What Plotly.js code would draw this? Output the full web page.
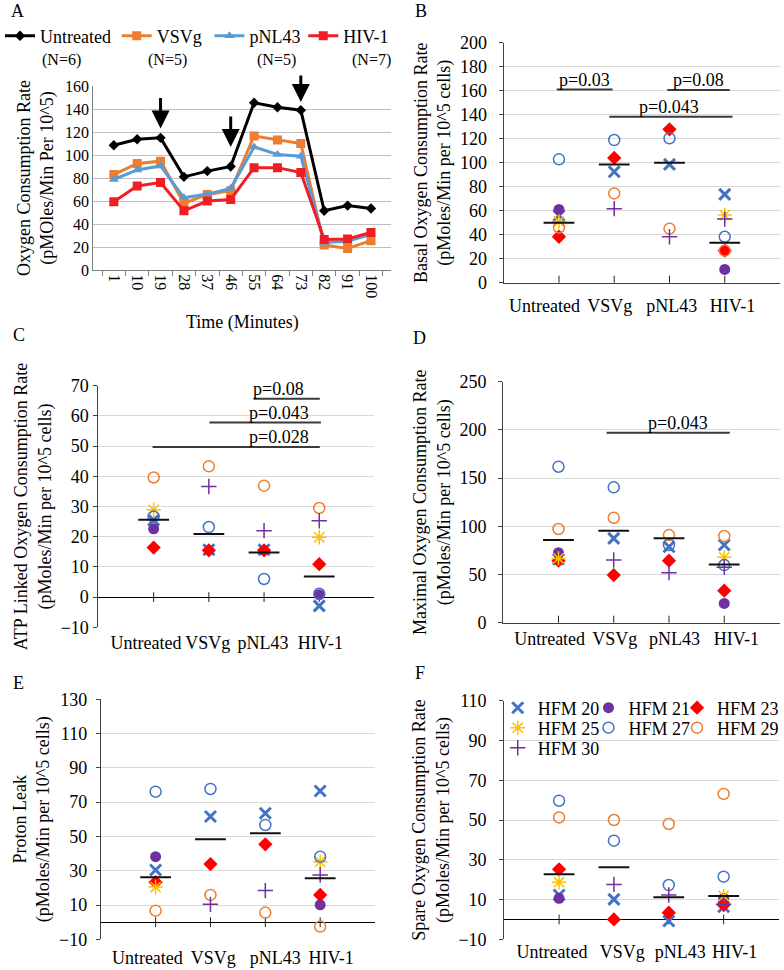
<!DOCTYPE html>
<html>
<head>
<meta charset="utf-8">
<script src="https://cdn.plot.ly/plotly-3.0.1.min.js"></script>
<style>html,body{margin:0;padding:0;background:#fff;}#chart{width:784px;height:970px;}</style>
</head>
<body>
<div id="chart"></div>
<script>
// ---------- Panel A data ----------
const timesA = ['1','10','19','28','37','46','55','64','73','82','91','100'];
const untreatedA = [108.5, 113.7, 114.9, 81, 86, 90, 145.5, 141.5, 139, 51.5, 56, 53.5];
const vsvgA      = [83, 92.6, 94.6, 58, 65.7, 69, 116.6, 113, 110, 21.7, 18.8, 25.5];
const pnl43A     = [78.7, 87, 90.5, 62.8, 66, 71, 107, 100.4, 99, 24, 25, 31];
const hiv1A      = [59.3, 73, 76, 51.5, 60, 61.3, 89, 89, 84.8, 26.6, 27, 32.7];
const seriesNamesA = ['Untreated','VSVg','pNL43','HIV-1'];
const groupNsA = ['(N=6)','(N=5)','(N=5)','(N=7)'];
// injection arrows: category and value at arrow tip
const arrowTimesA = ['19','46','73'];
const arrowTipsA  = [123, 107, 146];

// ---------- Panels B-F (donor rows x groups) ----------
const groups = ['Untreated','VSVg','pNL43','HIV-1'];
const donors = ['HFM 20','HFM 21','HFM 23','HFM 25','HFM 27','HFM 29','HFM 30'];

const basalB = [
  [56, 92.5, 98.6, 73.6],
  [61, null, null, 11.1],
  [38.3, 104, 127.8, 26.7],
  [51, null, null, 56.4],
  [102.8, 118.9, 120.3, 38.3],
  [46, 74.4, 45, 26.7],
  [null, 61.7, 38.3, 53]
];
const basalMean = [50, 98.6, 100, 33.3];

const atpC = [
  [25.5, 15.7, 15.7, -2.9],
  [22.6, null, null, 0.8],
  [16.4, 15.5, 15.5, 10.9],
  [28.9, null, null, 19.8],
  [26.7, 23.2, 6, 1.1],
  [39.6, 43.3, 36.9, 29.5],
  [null, 36.6, 22, 25.3]
];
const atpMean = [25.6, 20.9, 14.8, 6.8];

const maxD = [
  [66, 87.5, 78.8, 80.6],
  [72.6, null, null, 20],
  [64.3, 49.4, 64.3, 33.2],
  [66.7, null, null, 67.8],
  [161.8, 140.4, 80.6, 59.8],
  [97.2, 108.9, 90.9, 89.9],
  [null, 65, 51.9, 57.4]
];
const maxMean = [85.8, 95.4, 87.5, 60.5];

const leakE = [
  [30.4, 61.6, 63.5, 76.5],
  [38.2, null, null, 10.1],
  [23.3, 33.9, 45.4, 15.9],
  [20.5, null, null, 35.3],
  [76.1, 77.7, 56.7, 38.2],
  [6.7, 15.9, 5.6, -2.6],
  [null, 10.4, 18.4, 27.5]
];
const leakMean = [26.2, 48.3, 51.8, 25.6];

const spareF = [
  [12.3, 10.1, -0.8, 6.4],
  [10.6, null, null, 10.6],
  [25.2, 0, 3.4, 7.3],
  [18.7, null, null, 11.8],
  [59.7, 39.6, 17.3, 21.5],
  [51.3, 50, 48, 63.1],
  [null, 17.6, 12.3, 7.6]
];
const spareMean = [22.7, 26.2, 11.1, 11.8];

// significance bars: from group, to group, level, label
const sigB = [
  {from: -0.04, to: 0.97, y: 161, label: 'p=0.03', lx: 0.46},
  {from: 1.96, to: 3.09, y: 160.5, label: 'p=0.08', lx: 2.53},
  {from: 0.91, to: 3.14, y: 138.3, label: 'p=0.043', lx: 1.99}
];
const sigC = [
  {from: 1.81, to: 3.01, y: 65.7, label: 'p=0.08', lx: 2.27},
  {from: 1.01, to: 3.03, y: 57.8, label: 'p=0.043', lx: 2.27},
  {from: -0.02, to: 3.01, y: 49.7, label: 'p=0.028', lx: 2.27}
];
const sigD = [
  {from: 0.87, to: 3.1, y: 197, label: 'p=0.043', lx: 2.17}
];

// ---------- styling ----------
const W = 784, H = 970;
const FONT = 'Liberation Serif';
const px = v => v / W;
const py = v => 1 - v / H;
const TXT = '#000';
const tf = size => ({family: FONT, size: size, color: TXT});

const lineStylesA = [
  {color: '#000000', symbol: 'diamond', size: 8},
  {color: '#ED7D31', symbol: 'square', size: 9},
  {color: '#5B9BD5', symbol: 'triangle-up', size: 9},
  {color: '#F01E23', symbol: 'square', size: 9}
];
// legend placement (px): left origin and vertical centre
const legendPosA = [[0, 36], [117, 36], [210, 36], [304, 36]];
const donorStyles = [
  {symbol: 'x-thin-open', color: '#4472C4', size: 11, lw: 3},
  {symbol: 'circle', color: '#7030A0', size: 11, lw: 0},
  {symbol: 'diamond', color: '#FF0000', size: 11, lw: 0},
  {symbol: 'asterisk-open', color: '#FFC000', size: 12, lw: 1.5},
  {symbol: 'circle-open', color: '#4472C4', size: 11, lw: 1.5},
  {symbol: 'circle-open', color: '#ED7D31', size: 11, lw: 1.5},
  {symbol: 'cross-thin-open', color: '#7030A0', size: 11, lw: 1.5}
];
const legendPosF = [[499, 708], [590, 708], [679, 708], [499, 728], [590, 728], [679, 728], [499, 748]];

const traces = [];
const annotations = [];
const legends = {};
function addLegend(key, pos) {
  legends[key] = {x: px(pos[0]), y: py(pos[1]), xanchor: 'left', yanchor: 'middle',
    orientation: 'v', font: tf(18), itemwidth: 30, bgcolor: 'rgba(0,0,0,0)', borderwidth: 0};
}
function paperText(text, x, y, size) {
  annotations.push({text: text, xref: 'paper', yref: 'paper', x: px(x), y: py(y),
    xanchor: 'center', yanchor: 'middle', showarrow: false, font: tf(size)});
}

// Panel A
[untreatedA, vsvgA, pnl43A, hiv1A].forEach((ys, i) => {
  const s = lineStylesA[i];
  const key = i === 0 ? 'legend' : 'legend' + (i + 1);
  addLegend(key, legendPosA[i]);
  traces.push({
    type: 'scatter', mode: 'lines+markers', x: timesA, y: ys,
    name: seriesNamesA[i], xaxis: 'x', yaxis: 'y', legend: key,
    line: {color: s.color, width: 3},
    marker: {symbol: s.symbol, size: s.size, color: s.color},
    hoverinfo: 'skip'
  });
});
const nX = [62, 168, 277, 372];
groupNsA.forEach((t, i) => paperText(t, nX[i], 60, 16));
arrowTimesA.forEach((t, i) => annotations.push({
  xref: 'x', yref: 'y', x: timesA.indexOf(t), y: arrowTipsA[i], text: '',
  showarrow: true, arrowhead: 2, arrowsize: 1.2, arrowwidth: 3, arrowcolor: '#000',
  ax: 0, ay: i === 2 ? -28 : -32
}));

// Panels B-F
const gx = groups.map((g, i) => i);
const panels = [
  {ax: '2', data: basalB, mean: basalMean, sig: sigB, zero: false, labShift: [-0.26, -0.08, 0.04, 0.14]},
  {ax: '3', data: atpC, mean: atpMean, sig: sigC, zero: true, labShift: [-0.14, -0.02, -0.02, 0.02]},
  {ax: '4', data: maxD, mean: maxMean, sig: sigD, zero: false, labShift: [-0.16, 0.02, 0.1, 0.22]},
  {ax: '5', data: leakE, mean: leakMean, sig: [], zero: true, labShift: [-0.15, 0.05, 0.18, 0.2]},
  {ax: '6', data: spareF, mean: spareMean, sig: [], zero: true, labShift: [-0.13, 0.15, 0.21, 0.2]}
];
donors.forEach((d, di) => addLegend('legend' + (5 + di), legendPosF[di]));
panels.forEach((p, pi) => {
  const xa = 'x' + p.ax, ya = 'y' + p.ax;
  // category tick marks on the zero / bottom line
  traces.push({type: 'scatter', mode: 'markers', x: gx, y: gx.map(() => 0),
    xaxis: xa, yaxis: ya, showlegend: false, hoverinfo: 'skip', cliponaxis: true,
    marker: {symbol: 'line-ns-open', size: p.zero ? 7 : 10, color: '#222', line: {color: '#222', width: 1}}});
  p.sig.forEach(s => {
    traces.push({type: 'scatter', mode: 'lines', x: [s.from, s.to], y: [s.y, s.y],
      xaxis: xa, yaxis: ya, showlegend: false, hoverinfo: 'skip',
      line: {color: '#3a3a3a', width: 2}});
    annotations.push({xref: xa, yref: ya, x: s.lx, y: s.y, text: s.label, showarrow: false,
      xanchor: 'center', yanchor: 'bottom', yshift: -2, font: tf(18)});
  });
  donors.forEach((d, di) => {
    const st = donorStyles[di];
    const xs = [], ys = [];
    p.data[di].forEach((v, gi) => { if (v !== null) { xs.push(gi); ys.push(v); } });
    traces.push({type: 'scatter', mode: 'markers', x: xs, y: ys, name: d,
      xaxis: xa, yaxis: ya, legend: 'legend' + (5 + di), showlegend: p.ax === '6',
      hoverinfo: 'skip',
      marker: {symbol: st.symbol, size: st.size, color: st.color,
        line: {color: st.color, width: st.lw}}});
  });
  traces.push({type: 'scatter', mode: 'markers', x: gx, y: p.mean, xaxis: xa, yaxis: ya,
    showlegend: false, hoverinfo: 'skip', name: 'mean',
    marker: {symbol: 'line-ew-open', size: 22, color: '#111', line: {color: '#111', width: 2}}});
});

// panel letters
[['A', 18, 11], ['B', 422, 11], ['C', 19, 335], ['D', 421, 338], ['E', 19, 683], ['F', 421, 673]]
  .forEach(l => paperText(l[0], l[1], l[2], 18));

function catX(domain, bottomLine, anchor, shifts, standoff) {
  return {domain: domain, anchor: anchor, range: [-1, 4],
    tickvals: gx.map((g, i) => g + shifts[i]), ticktext: groups,
    tickangle: 0, showgrid: false, zeroline: false, showline: bottomLine, linecolor: '#404040', linewidth: 1,
    ticks: '', ticklabelstandoff: standoff,
    tickfont: tf(18), fixedrange: true, automargin: false};
}
function valY(domain, range, tick0, dtick, title, anchor, zeroLine, labGap) {
  return {domain: domain, anchor: anchor, range: range, tick0: tick0, dtick: dtick,
    showgrid: true, gridcolor: '#D9D9D9', gridwidth: 1,
    zeroline: zeroLine, zerolinecolor: '#000', zerolinewidth: 1,
    showline: true, linecolor: '#404040', linewidth: 1, ticks: 'outside', ticklen: 4, tickcolor: '#404040',
    ticklabelstandoff: labGap,
    tickfont: tf(18), title: {text: title, font: tf(18), standoff: 4}, automargin: false};
}

const layout = Object.assign({
  width: W, height: H, margin: {l: 0, r: 0, t: 0, b: 0},
  paper_bgcolor: '#fff', plot_bgcolor: 'rgba(0,0,0,0)',
  font: {family: FONT, color: TXT},
  showlegend: true,
  xaxis: {domain: [px(93.5), px(392.5)], anchor: 'y', type: 'category', tickangle: 90,
    tickson: 'boundaries', ticks: 'outside', ticklen: 5, tickcolor: '#808080',
    showline: true, linecolor: '#808080', showgrid: false, tickfont: tf(16),
    title: {text: 'Time (Minutes)', font: tf(18), standoff: 18}, automargin: false},
  yaxis: {domain: [py(270), py(86)], anchor: 'x', range: [0, 160], dtick: 20,
    showgrid: true, gridcolor: '#BFBFBF', showline: true, linecolor: '#808080', zeroline: false,
    tickfont: tf(16), title: {text: 'Oxygen Consumption Rate<br>(pMOles/Min Per 10^5)', font: tf(18), standoff: 6},
    automargin: false},
  xaxis2: catX([px(505), px(782)], true, 'y2', panels[0].labShift, 7),
  yaxis2: valY([py(282.7), py(42.7)], [0, 200], 0, 20, 'Basal Oxygen Consumption Rate<br>(pMoles/Min per 10^5 cells)', 'x2', false, 8),
  xaxis3: catX([px(98.7), px(375.4)], false, 'y3', panels[1].labShift, 3),
  yaxis3: valY([py(627.3), py(385.7)], [-10, 70], -10, 10, 'ATP Linked Oxygen Consumption Rate<br>(pMoles/Min per 10^5 cells)', 'x3', true, 1),
  xaxis4: catX([px(504.5), px(781.5)], true, 'y4', panels[2].labShift, 0),
  yaxis4: valY([py(622.7), py(381.7)], [0, 250], 0, 50, 'Maximal Oxygen Consumption Rate<br>(pMoles/Min per 10^5 cells)', 'x4', false, 8),
  xaxis5: catX([px(101), px(376)], false, 'y5', panels[3].labShift, 6),
  yaxis5: valY([py(939.3), py(699.3)], [-10, 130], -10, 20, 'Proton Leak<br>(pMoles/Min per 10^5 cells)', 'x5', true, 5),
  xaxis6: catX([px(505.5), px(780.5)], false, 'y6', panels[4].labShift, 0),
  yaxis6: valY([py(939.3), py(700.7)], [-10, 110], -10, 20, 'Spare Oxygen Consumption Rate<br>(pMoles/Min per 10^5 cells)', 'x6', true, 9),
  annotations: annotations
}, legends);

Plotly.newPlot('chart', traces, layout, {staticPlot: true, displayModeBar: false});
</script>
</body>
</html>
